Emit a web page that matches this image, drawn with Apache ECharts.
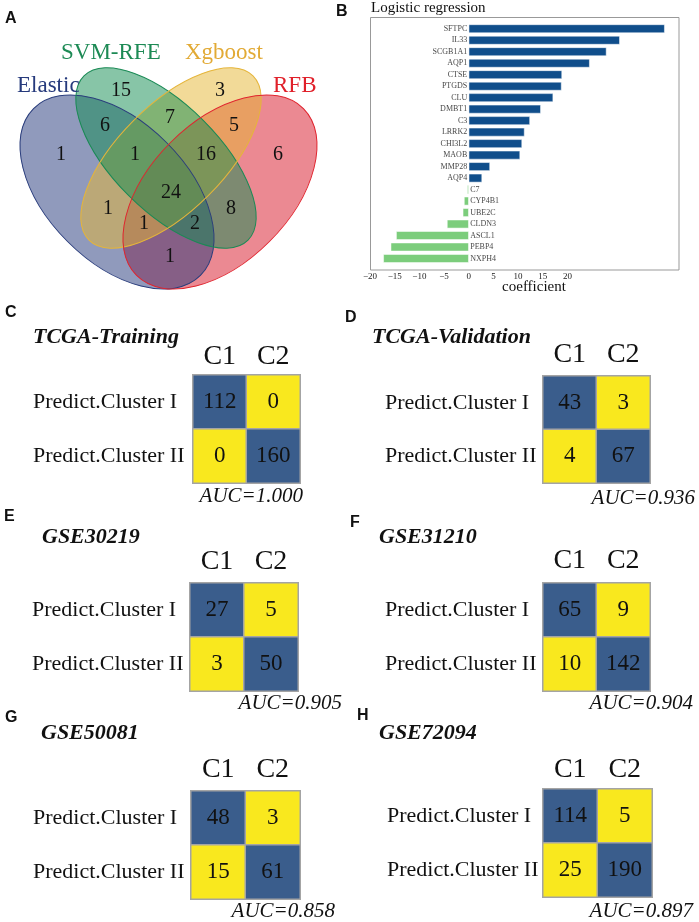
<!DOCTYPE html>
<html><head><meta charset="utf-8">
<script src="https://cdn.jsdelivr.net/npm/echarts@6/dist/echarts.min.js"></script>
<style>html,body{margin:0;padding:0;background:#fff}#c{width:699px;height:922px}</style>
</head><body><div id="c"></div>
<script>
// ---------- Panel B data ----------
const genes = ['SFTPC','IL33','SCGB1A1','AQP1','CTSE','PTGDS','CLU','DMBT1','C3','LRRK2','CHI3L2','MAOB','MMP28','AQP4','C7','CYP4B1','UBE2C','CLDN3','ASCL1','PEBP4','NXPH4'];
const coefficients = [39.7,30.6,27.9,24.5,18.9,18.8,17.1,14.6,12.4,11.3,10.8,10.4,4.3,2.7,-0.3,-0.95,-1.2,-4.4,-14.7,-15.8,-17.3];
const coefTickMax = 20;

// ---------- Panel A data ----------
const vennSets = ['Elastic','SVM-RFE','Xgboost','RFB'];
const vennRegions = ['E','S','X','R','ES','SX','XR','ESX','SXR','ESXR','EX','SR','EXR','ESR','ER'];
const vennCounts = [1,15,3,6,6,7,5,1,16,24,1,8,1,2,1];

// ---------- Panels C-H data ----------
const cmCols = ['C1','C2'];
const cmRows = ['Predict.Cluster I','Predict.Cluster II'];
const cohorts = ['TCGA-Training','TCGA-Validation','GSE30219','GSE31210','GSE50081','GSE72094'];
const cmTrain = [[112,0],[0,160]];
const cmValid = [[43,3],[4,67]];
const cm30219 = [[27,5],[3,50]];
const cm31210 = [[65,9],[10,142]];
const cm50081 = [[48,3],[15,61]];
const cm72094 = [[114,5],[25,190]];
const aucValues = ['1.000','0.936','0.905','0.904','0.858','0.897'];

// ---------- layout (not data) ----------
const SERIF = "'Liberation Serif','Times New Roman',serif";
const SANS = "'Liberation Sans',Arial,sans-serif";
const BLUE = '#3a5d8c', YEL = '#f9e81e';
const matrices = [cmTrain, cmValid, cm30219, cm31210, cm50081, cm72094];
const panelLetters = ['C','D','E','F','G','H'];
const cmLayout = [
  {l:193,t:375,w:107,h:108,lab:33,cm:4, tx:33,ty:337, px:5,py:313, ax:303,ay:496},
  {l:543,t:376,w:107,h:107,lab:385,cm:7, tx:372,ty:337, px:345,py:318, ax:695,ay:498},
  {l:190,t:583,w:108,h:108,lab:32,cm:7, tx:42,ty:537, px:4,py:517, ax:342,ay:703},
  {l:543,t:583,w:107,h:108,lab:385,cm:8, tx:379,ty:537, px:350,py:523, ax:693,ay:703},
  {l:191,t:791,w:109,h:108,lab:33,cm:7, tx:41,ty:733, px:5,py:718, ax:335,ay:911},
  {l:543,t:789,w:109,h:108,lab:387,cm:5, tx:379,ty:733, px:357,py:716, ax:693,ay:911}
];
const vennPos = [[61,155],[121,91],[220,91],[278,155],[105,126],[170,118],[234,126],[135,155],[206,155],[171,193],[108,209],[231,209],[144,224],[195,224],[170,257]];
const vennShapes = [ // Elastic, SVM-RFE, Xgboost, RFB
  {x:117,y:192,rx:118,ry:70,rot:-Math.PI/4,fill:'rgba(34,54,122,0.5)',stroke:'#2a3d7c'},
  {x:166,y:158,rx:116,ry:53,rot:-Math.PI/4,fill:'rgba(15,140,80,0.5)',stroke:'#1a8a55'},
  {x:171,y:158,rx:116,ry:53,rot:Math.PI/4,fill:'rgba(230,181,49,0.5)',stroke:'#e5b53a'},
  {x:220,y:192,rx:118,ry:70,rot:Math.PI/4,fill:'rgba(216,20,37,0.5)',stroke:'#e0242e'}
];
const vennLabelPos = [[17,86,'left','#263a7c'],[61,53,'left','#1d8a55'],[185,53,'left','#e2aa35'],[273,86,'left','#e0202a']];
const fillOrder = [3,0,2,1];

const chart = echarts.init(document.getElementById('c'), null, {renderer:'canvas'});

const grids = [{left:370, right:20, top:23, height:241.25}];
const xAxes = [{
  gridIndex:0, type:'value', min:-20, max:42.6, interval:5,
  axisLine:{show:false}, axisTick:{show:false}, splitLine:{show:false},
  axisLabel:{margin:8, fontSize:9, fontFamily:SERIF, color:'#222',
    formatter:v => v > coefTickMax ? '' : (v < 0 ? '\u2212' + Math.abs(v) : String(v))}
}];
const yAxes = [{
  gridIndex:0, type:'category', data:genes, inverse:true,
  axisLine:{show:false}, axisTick:{show:false}, axisLabel:{show:false}, splitLine:{show:false}
}];
const series = [{
  type:'bar', xAxisIndex:0, yAxisIndex:0, barWidth:8.6,
  data: coefficients.map(v => ({value:v, itemStyle:{color: v >= 0 ? '#104E8B' : '#7CCD7C'}})),
  itemStyle:{borderColor:'#fff', borderWidth:0.5}, silent:true
},{
  type:'scatter', xAxisIndex:0, yAxisIndex:0, symbolSize:0, silent:true,
  data: genes.map((g,i) => ({value:[0, i], label:{show:true, formatter:g,
    position: coefficients[i] >= 0 ? 'left' : 'right', distance:1.5,
    fontSize:8, fontFamily:SERIF, color:'#111'}}))
}];

const graphics = [];
graphics.push({type:'rect', shape:{x:370.5, y:17.5, width:308.5, height:252.5}, style:{fill:'none', stroke:'#999', lineWidth:1}, z:10});
graphics.push({type:'text', style:{text:'Logistic regression', x:371, y:8, textVerticalAlign:'middle', font:'15px '+SERIF, fill:'#111'}});
graphics.push({type:'text', style:{text:'coefficient', x:534, y:287, textAlign:'center', textVerticalAlign:'middle', font:'15px '+SERIF, fill:'#111'}});
graphics.push({type:'text', style:{text:'B', x:336, y:12, textVerticalAlign:'middle', font:'bold 16px '+SANS, fill:'#111'}});
graphics.push({type:'text', style:{text:'A', x:5, y:19, textVerticalAlign:'middle', font:'bold 16px '+SANS, fill:'#111'}});

fillOrder.forEach(k => {
  const s = vennShapes[k];
  graphics.push({type:'ellipse', x:s.x, y:s.y, rotation:s.rot, shape:{cx:0, cy:0, rx:s.rx, ry:s.ry}, style:{fill:s.fill, stroke:'none'}});
});
vennShapes.forEach(s => {
  graphics.push({type:'ellipse', x:s.x, y:s.y, rotation:s.rot, shape:{cx:0, cy:0, rx:s.rx, ry:s.ry}, style:{fill:'none', stroke:s.stroke, lineWidth:1}});
});
vennSets.forEach((name,i) => {
  const p = vennLabelPos[i];
  graphics.push({type:'text', style:{text:name, x:p[0], y:p[1], textAlign:p[2], textVerticalAlign:'middle', font:'23px '+SERIF, fill:p[3]}});
});
vennCounts.forEach((c,i) => {
  const p = vennPos[i];
  graphics.push({type:'text', style:{text:String(c), x:p[0], y:p[1], textAlign:'center', textVerticalAlign:'middle', font:'20px '+SERIF, fill:'#111'}});
});

matrices.forEach((m, k) => {
  const L = cmLayout[k];
  const gi = k + 1;
  grids.push({left:L.l, top:L.t, width:L.w, height:L.h});
  xAxes.push({gridIndex:gi, type:'category', data:cmCols, position:'top',
    axisLine:{show:false}, axisTick:{show:false}, splitLine:{show:false},
    axisLabel:{margin:L.cm, fontSize:28, fontFamily:SERIF, color:'#111'}});
  yAxes.push({gridIndex:gi, type:'category', data:cmRows, inverse:true,
    axisLine:{show:false}, axisTick:{show:false}, splitLine:{show:false},
    axisLabel:{margin:L.l - L.lab, align:'left', fontSize:22, fontFamily:SERIF, color:'#111'}});
  const data = [];
  m.forEach((row, r) => row.forEach((v, c) => {
    data.push({value:[c, r, v], itemStyle:{color: r === c ? BLUE : YEL}});
  }));
  series.push({type:'heatmap', xAxisIndex:gi, yAxisIndex:gi, data, silent:true,
    itemStyle:{borderColor:'#a4a4a4', borderWidth:1.5},
    label:{show:true, fontSize:23, fontFamily:SERIF, color:'#111'}});
  graphics.push({type:'text', style:{text:panelLetters[k], x:L.px, y:L.py, textVerticalAlign:'middle', font:'bold 16px '+SANS, fill:'#111'}});
  graphics.push({type:'text', style:{text:cohorts[k], x:L.tx, y:L.ty, textVerticalAlign:'middle', font:'italic bold 22px '+SERIF, fill:'#111'}});
  graphics.push({type:'text', style:{text:'AUC=' + aucValues[k], x:L.ax, y:L.ay, textAlign:'right', textVerticalAlign:'middle', font:'italic 21px '+SERIF, fill:'#111'}});
});

chart.setOption({
  animation:false,
  backgroundColor:'#fff',
  grid:grids, xAxis:xAxes, yAxis:yAxes, series,
  graphic:{elements:graphics}
});
</script></body></html>
